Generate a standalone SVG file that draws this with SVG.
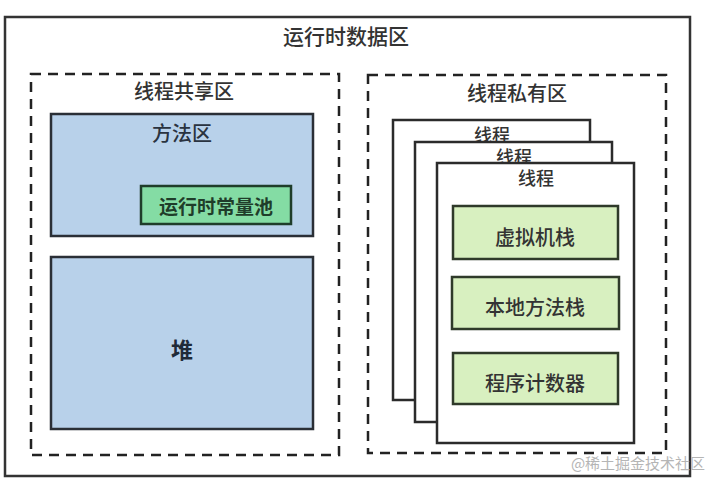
<svg xmlns="http://www.w3.org/2000/svg" width="720" height="485" viewBox="0 0 720 485">
<style>
text{font-family:"Noto Sans CJK SC","Noto Sans",sans-serif;text-anchor:middle;dominant-baseline:central;fill:#333;font-weight:500}
.dash{fill:none;stroke:#222;stroke-width:2.5;stroke-dasharray:10,7}
.blue{fill:#b8d1ea;stroke:#2a2f36;stroke-width:2.5}
.thread{fill:#fff;stroke:#2b2b2b;stroke-width:2.5}
.lg{fill:#d8f0c0;stroke:#2f3a2a;stroke-width:2.5}
.t20{font-size:20px}
.t18{font-size:18px}
</style>
<rect width="720" height="485" fill="#fff"/>
<g id="runtime-data-area">
<rect x="5" y="17" width="685" height="459" fill="#fff" stroke="#333" stroke-width="2.5"/>
<text x="346" y="35" font-size="21">运行时数据区</text>
</g>
<g id="shared-area">
<rect class="dash" x="31" y="74" width="308" height="381"/>
<text class="t20" x="184" y="90">线程共享区</text>
</g>
<g id="method-area">
<rect class="blue" x="51" y="114" width="262" height="122"/>
<text class="t20" x="182" y="132" style="fill:#2a3340">方法区</text>
</g>
<g id="constant-pool">
<rect x="141" y="186" width="150" height="38" fill="#84dca4" stroke="#1f3d2a" stroke-width="2.5"/>
<text x="216" y="205" font-size="19" style="fill:#1f3d2a;font-weight:700">运行时常量池</text>
</g>
<g id="heap">
<rect class="blue" x="51" y="257" width="262" height="172"/>
<text x="182" y="348" font-size="22" style="fill:#1f2a38;font-weight:700">堆</text>
</g>
<g id="private-area">
<rect class="dash" x="368" y="75" width="298" height="378"/>
<text class="t20" x="517" y="92">线程私有区</text>
</g>
<g id="thread-1">
<rect class="thread" x="393" y="120" width="197" height="280"/>
<text class="t18" x="492" y="134">线程</text>
</g>
<g id="thread-2">
<rect class="thread" x="415" y="142" width="197" height="280"/>
<text class="t18" x="514" y="156">线程</text>
</g>
<g id="thread-3">
<rect class="thread" x="437" y="163" width="197" height="280"/>
<text class="t18" x="536" y="177">线程</text>
</g>
<g id="vm-stack">
<rect class="lg" x="453" y="206" width="165" height="53"/>
<text class="t20" x="535" y="236">虚拟机栈</text>
</g>
<g id="native-stack">
<rect class="lg" x="452" y="277" width="167" height="52"/>
<text class="t20" x="535" y="306">本地方法栈</text>
</g>
<g id="pc-register">
<rect class="lg" x="453" y="353" width="165" height="51"/>
<text class="t20" x="535" y="382">程序计数器</text>
</g>
<g id="connectors"></g>
<text x="638" y="462" font-size="15" style="fill:#b5b5b5;font-weight:400">@稀土掘金技术社区</text>
</svg>
